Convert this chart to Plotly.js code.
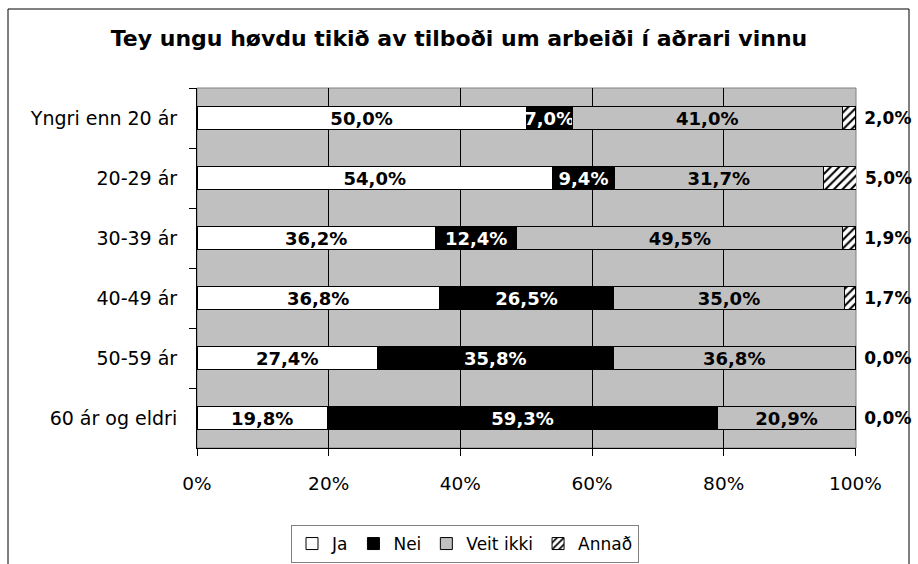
<!DOCTYPE html>
<html>
<head>
<meta charset="utf-8">
<script src="https://cdn.plot.ly/plotly-3.0.1.min.js"></script>
<style>html,body{margin:0;padding:0;background:#fff;}#chart{width:918px;height:564px;}</style>
</head>
<body>
<div id="chart"></div>
<script>
const categories = ["Yngri enn 20 ár", "20-29 ár", "30-39 ár", "40-49 ár", "50-59 ár", "60 ár og eldri"];
const ja       = [50.0, 54.0, 36.2, 36.8, 27.4, 19.8];
const nei      = [7.0, 9.4, 12.4, 26.5, 35.8, 59.3];
const veitIkki = [41.0, 31.7, 49.5, 35.0, 36.8, 20.9];
const annad    = [2.0, 5.0, 1.9, 1.7, 0.0, 0.0];
const seriesNames = ["Ja", "Nei", "Veit ikki", "Annað"];
const xTickVals = [0, 20, 40, 60, 80, 100];
const xTickText = ["0%", "20%", "40%", "60%", "80%", "100%"];
const titleText = "Tey ungu høvdu tikið av tilboði um arbeiði í aðrari vinnu";

const FONT = "DejaVu Sans, Arial, sans-serif";
const barW = 0.38;
const lineStyle = {color: "#000000", width: 1};
function labelFont(color) { return {family: FONT, size: 18, color: color, weight: "bold"}; }

const traces = [
  {name: seriesNames[0], y: categories, x: ja, type: "bar", orientation: "h", width: barW,
   marker: {color: "#FFFFFF", line: lineStyle},
   texttemplate: "%{x:.1f}%", textposition: "inside", insidetextanchor: "middle", textangle: 0,
   constraintext: "none", insidetextfont: labelFont("#000000")},
  {name: seriesNames[1], y: categories, x: nei, type: "bar", orientation: "h", width: barW,
   marker: {color: "#000000", line: lineStyle},
   texttemplate: "%{x:.1f}%", textposition: "inside", insidetextanchor: "middle", textangle: 0,
   constraintext: "none", insidetextfont: labelFont("#FFFFFF")},
  {name: seriesNames[2], y: categories, x: veitIkki, type: "bar", orientation: "h", width: barW,
   marker: {color: "#C0C0C0", line: lineStyle},
   texttemplate: "%{x:.1f}%", textposition: "inside", insidetextanchor: "middle", textangle: 0,
   constraintext: "none", insidetextfont: labelFont("#000000")},
  {name: seriesNames[3], y: categories, x: annad, type: "bar", orientation: "h", width: barW,
   marker: {color: "#FFFFFF", line: lineStyle,
            pattern: {shape: "/", bgcolor: "#FFFFFF", fgcolor: "#000000", size: 6, solidity: 0.35}},
   texttemplate: "\u00a0%{x:.1f}%", textposition: "outside", textangle: 0, cliponaxis: false,
   constraintext: "none", outsidetextfont: {family: FONT, size: 17, color: "#000000", weight: "bold"}}
];

const L = 197, R = 62, T = 88, B = 116, W = 918, H = 564;
const pw = W - L - R, ph = H - T - B;
function px2x(px) { return (px - L) / pw; }
function py2y(py) { return (H - B - py) / ph; }

const layout = {
  width: W, height: H,
  margin: {l: L, r: R, t: T, b: B, pad: 0, autoexpand: false},
  paper_bgcolor: "#FFFFFF",
  plot_bgcolor: "#C0C0C0",
  barmode: "stack",
  separators: ", ",
  showlegend: true,
  title: {text: titleText, x: 0.5, xref: "container", xanchor: "center",
          y: 1 - 38 / H, yref: "container", yanchor: "middle",
          font: {family: FONT, size: 22, color: "#000000", weight: "bold"}},
  xaxis: {range: [0, 100.1], tickmode: "array", tickvals: xTickVals, ticktext: xTickText,
          showgrid: true, gridcolor: "#000000", gridwidth: 1, zeroline: false,
          showline: true, linecolor: "#000000", linewidth: 1,
          ticks: "outside", ticklen: 7, tickcolor: "#000000", ticklabelstandoff: 12,
          tickfont: {family: FONT, size: 18.5, color: "#000000"}, fixedrange: true},
  yaxis: {type: "category", autorange: "reversed", showgrid: false, zeroline: false,
          showline: true, linecolor: "#000000", linewidth: 1,
          ticks: "outside", ticklen: 7, tickcolor: "#000000", tickson: "boundaries",
          ticklabelstandoff: 15,
          tickfont: {family: FONT, size: 19, color: "#000000"}, fixedrange: true},
  legend: {orientation: "h", x: px2x(291), xanchor: "left", y: py2y(525), yanchor: "top",
           bgcolor: "#FFFFFF", bordercolor: "#808080", borderwidth: 1,
           font: {family: FONT, size: 17, color: "#000000"}, traceorder: "normal"},
  shapes: [
    {type: "rect", xref: "paper", yref: "paper", x0: 0, x1: 1, y0: 0, y1: 1,
     line: {color: "#808080", width: 1}, layer: "below"},
    {type: "rect", xref: "paper", yref: "paper", x0: px2x(8), x1: px2x(909), y0: py2y(600), y1: py2y(9),
     line: {color: "#000000", width: 1}, fillcolor: "rgba(0,0,0,0)", layer: "below"}
  ]
};

Plotly.newPlot("chart", traces, layout, {displayModeBar: false, staticPlot: true});
</script>
</body>
</html>
